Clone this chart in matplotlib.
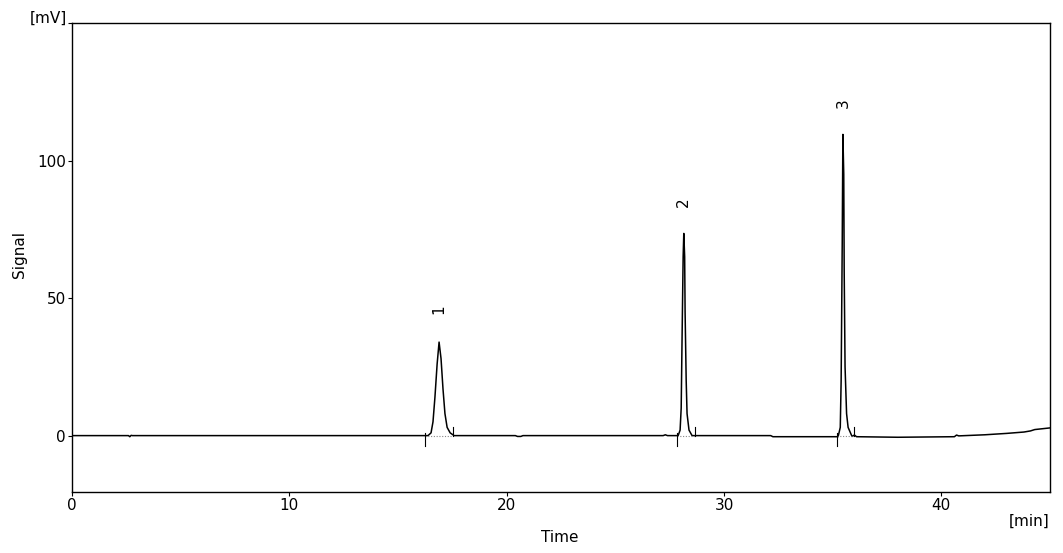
import matplotlib
matplotlib.use("Agg")
import matplotlib.pyplot as plt
import numpy as np

# ---- data ----
trace_t = [0.0, 2.60, 2.66, 2.72, 2.78, 16.30,
           16.38, 16.52, 16.61, 16.70, 16.80, 16.89, 16.98, 17.07, 17.16, 17.26, 17.40, 17.58,
           20.40, 20.50, 20.65, 20.75, 27.20, 27.30, 27.40,
           27.89, 27.98, 28.03, 28.07, 28.12, 28.15, 28.19, 28.21, 28.26, 28.30, 28.39, 28.53,
           32.15, 32.25,
           35.25, 35.35, 35.39, 35.44, 35.47, 35.51, 35.53, 35.57, 35.64, 35.71, 35.89,
           36.00, 36.10, 38.00, 40.60, 40.70, 40.80, 42.00, 43.00, 43.80, 44.10, 44.30, 45.00]
trace_mv = [0.0, 0.0, -0.4, 0.1, 0.0, 0.0,
            0.0, 1.0, 5.0, 14.0, 26.0, 34.0, 28.0, 17.0, 8.0, 3.0, 1.0, 0.0,
            0.0, -0.3, -0.3, 0.0, 0.0, 0.3, 0.0,
            0.0, 2.0, 10.0, 35.0, 65.0, 73.5, 65.0, 45.0, 20.0, 8.0, 2.0, 0.0,
            0.0, -0.4,
            -0.4, 3.0, 20.0, 70.0, 109.5, 95.0, 60.0, 25.0, 8.0, 3.0, -0.3,
            0.2, -0.4, -0.6, -0.4, 0.2, -0.1, 0.3, 0.8, 1.3, 1.7, 2.2, 2.8]

peak_labels = ["1", "2", "3"]
peak_rt = [16.89, 28.15, 35.47]
label_mv = [46, 85, 121]
int_start = [16.25, 27.85, 35.20]
int_end = [17.55, 28.68, 36.00]

x_ticks = [0, 10, 20, 30, 40]
y_ticks = [0, 50, 100, 150]
y_ticklabels = ["0", "50", "100", ""]

# ---- figure ----
fig = plt.figure(figsize=(10.63, 5.53), dpi=100)
ax = fig.add_axes([72 / 1063, 1 - 492 / 553, (1050 - 72) / 1063, (492 - 23) / 553])

ax.plot(trace_t, trace_mv, color="black", lw=1.1)

for s, e in zip(int_start, int_end):
    ax.plot([s, e], [0, 0], color="#888888", lw=0.8, ls=(0, (1, 1.5)))
    ax.plot([s, s], [0.8, -3.6], color="black", lw=0.8)
    ax.plot([e, e], [0.0, 3.0], color="black", lw=0.8)

for lab, t, y in zip(peak_labels, peak_rt, label_mv):
    ax.text(t, y, lab, rotation=90, ha="center", va="center", fontsize=11)

ax.set_xlim(0, 45)
ax.set_ylim(-20.5, 150)
ax.set_xticks(x_ticks)
ax.set_yticks(y_ticks)
ax.set_yticklabels(y_ticklabels)
ax.tick_params(direction="out", length=3, width=0.8, labelsize=11, pad=1.5)
for sp in ax.spines.values():
    sp.set_linewidth(1.0)

fig.text(67 / 1063, 1 - 18 / 553, "[mV]", ha="right", va="center", fontsize=11)
fig.text(560 / 1063, 1 - 538 / 553, "Time", ha="center", va="center", fontsize=11)
fig.text(1049 / 1063, 1 - 521 / 553, "[min]", ha="right", va="center", fontsize=11)
fig.text(20 / 1063, 1 - 255 / 553, "Signal", ha="center", va="center", rotation=90, fontsize=11)

fig.savefig("out.png", dpi=100)
